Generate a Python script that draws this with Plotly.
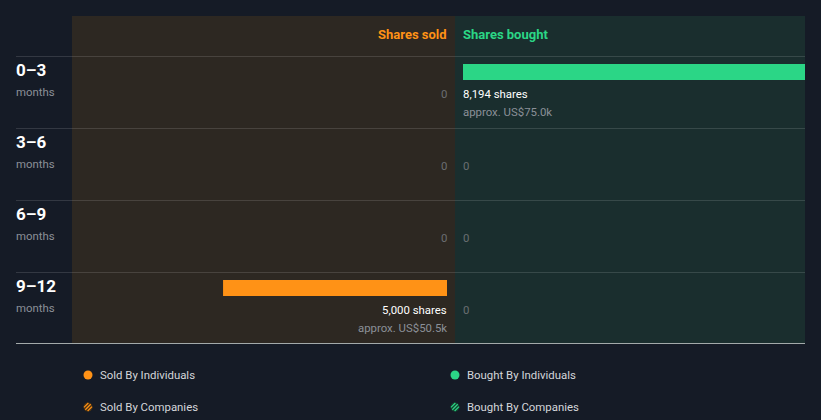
import math
import plotly.graph_objects as go

# ---- data ----
periods = ["0–3", "3–6", "6–9", "9–12"]
period_unit = "months"
shares_sold = [0, 0, 0, 5000]
shares_bought = [8194, 0, 0, 0]
sold_value = ["", "", "", "US$50.5k"]
bought_value = ["US$75.0k", "", "", ""]
legend_sold = ["Sold By Individuals", "Sold By Companies"]
legend_bought = ["Bought By Individuals", "Bought By Companies"]

W, H = 821, 420
BG = "#151b26"
SOLD_BG = "#2d2822"
BOUGHT_BG = "#1a2e2e"
ORANGE = "#ff9216"
GREEN = "#2bd686"
FONT = "Roboto"
SMALL = 11.4

def px(x):
    return x / W

def py(y):
    return 1 - y / H

max_val = max(shares_sold + shares_bought)

fig = go.Figure()
fig.add_trace(go.Bar(
    y=periods, x=shares_sold, orientation="h", xaxis="x", yaxis="y",
    marker=dict(color=ORANGE, line=dict(width=0)), width=16 / 72,
    hoverinfo="skip", showlegend=False))
fig.add_trace(go.Bar(
    y=periods, x=shares_bought, orientation="h", xaxis="x2", yaxis="y",
    marker=dict(color=GREEN, line=dict(width=0)), width=16 / 72,
    hoverinfo="skip", showlegend=False))

shapes = []
# panels
shapes.append(dict(type="rect", xref="paper", yref="paper", x0=px(72), x1=px(455),
                   y0=py(343), y1=py(16), fillcolor=SOLD_BG, line=dict(width=0), layer="below"))
shapes.append(dict(type="rect", xref="paper", yref="paper", x0=px(455), x1=px(805),
                   y0=py(343), y1=py(16), fillcolor=BOUGHT_BG, line=dict(width=0), layer="below"))
# row separators
for yy in [56, 128, 200, 272]:
    shapes.append(dict(type="line", xref="paper", yref="paper", x0=px(16), x1=px(805),
                       y0=py(yy + 0.5), y1=py(yy + 0.5),
                       line=dict(color="rgba(255,255,255,0.13)", width=1), layer="below"))
shapes.append(dict(type="line", xref="paper", yref="paper", x0=px(16), x1=px(805),
                   y0=py(343.5), y1=py(343.5), line=dict(color="#a3aaaa", width=1)))

annotations = []
# headers
annotations.append(dict(text="<b>Shares sold</b>", xref="paper", yref="paper", x=px(447), y=py(34),
                        xanchor="right", yanchor="middle", showarrow=False, xshift=2,
                        font=dict(family=FONT, size=13, color=ORANGE)))
annotations.append(dict(text="<b>Shares bought</b>", xref="paper", yref="paper", x=px(463), y=py(34),
                        xanchor="left", yanchor="middle", showarrow=False, xshift=-2,
                        font=dict(family=FONT, size=13, color=GREEN)))

for i, p in enumerate(periods):
    annotations.append(dict(text="<b>%s</b>" % p, xref="paper", yref="y", x=px(16), y=p, yshift=2,
                            xanchor="left", yanchor="middle", showarrow=False, xshift=-2,
                            font=dict(family=FONT, size=17, color="#ffffff")))
    annotations.append(dict(text=period_unit, xref="paper", yref="y", x=px(16), y=p, yshift=-20,
                            xanchor="left", yanchor="middle", showarrow=False, xshift=-2,
                            font=dict(family=FONT, size=SMALL, color="#8b9098")))
    for val, usd, xr, anc, sh in [(shares_sold[i], sold_value[i], "x", "right", 2),
                                  (shares_bought[i], bought_value[i], "x2", "left", -2)]:
        if val == 0:
            annotations.append(dict(text="0", xref=xr, yref="y", x=0, y=p, yshift=-22, xshift=sh,
                                    xanchor=anc, yanchor="middle", showarrow=False,
                                    font=dict(family=FONT, size=SMALL, color="#6b6e72")))
        else:
            annotations.append(dict(text="{:,} shares".format(val), xref=xr, yref="y", x=0, y=p,
                                    yshift=-22, xshift=sh, xanchor=anc, yanchor="middle",
                                    showarrow=False,
                                    font=dict(family=FONT, size=SMALL, color="#ffffff")))
            annotations.append(dict(text="approx. " + usd, xref=xr, yref="y", x=0, y=p,
                                    yshift=-40, xshift=sh, xanchor=anc, yanchor="middle",
                                    showarrow=False,
                                    font=dict(family=FONT, size=SMALL, color="#8b9098")))

# legend
for (labels, color, dark, cx) in [(legend_sold, ORANGE, "#4a3214", 88),
                                  (legend_bought, GREEN, "#14402e", 455)]:
    for j, lab in enumerate(labels):
        cy = 375 + 32 * j
        r = 4.5
        if j == 0:
            shapes.append(dict(type="circle", xref="paper", yref="paper",
                               x0=px(cx - r), x1=px(cx + r), y0=py(cy + r), y1=py(cy - r),
                               fillcolor=color, line=dict(width=0)))
        else:
            shapes.append(dict(type="circle", xref="paper", yref="paper",
                               x0=px(cx - r), x1=px(cx + r), y0=py(cy + r), y1=py(cy - r),
                               fillcolor=dark, line=dict(width=0)))
            for k in [-2.6, 0.0, 2.6]:
                ox, oy = k / math.sqrt(2), k / math.sqrt(2)
                L = math.sqrt(max(r * r - k * k, 0)) * 0.85 / math.sqrt(2)
                shapes.append(dict(type="line", xref="paper", yref="paper",
                                   x0=px(cx + ox - L), y0=py(cy + oy + L),
                                   x1=px(cx + ox + L), y1=py(cy + oy - L),
                                   line=dict(color=color, width=1.2)))
        annotations.append(dict(text=lab, xref="paper", yref="paper", x=px(cx + 12), y=py(cy),
                                xanchor="left", yanchor="middle", showarrow=False, xshift=-2,
                                font=dict(family=FONT, size=SMALL, color="#d4d6da")))

fig.update_layout(
    width=W, height=H, margin=dict(l=0, r=0, t=0, b=0),
    paper_bgcolor=BG, plot_bgcolor="rgba(0,0,0,0)",
    barmode="overlay", showlegend=False,
    font=dict(family=FONT),
    xaxis=dict(domain=[px(80), px(447)], range=[max_val, 0], visible=False, fixedrange=True),
    xaxis2=dict(domain=[px(463), px(805)], range=[0, max_val], visible=False, fixedrange=True,
                anchor="y"),
    yaxis=dict(domain=[0, 1], type="category", categoryarray=periods,
               range=[(H - 72) / 72, -1], visible=False, fixedrange=True),
    shapes=shapes, annotations=annotations,
)

fig.write_html("out.html", config={"displayModeBar": False})
